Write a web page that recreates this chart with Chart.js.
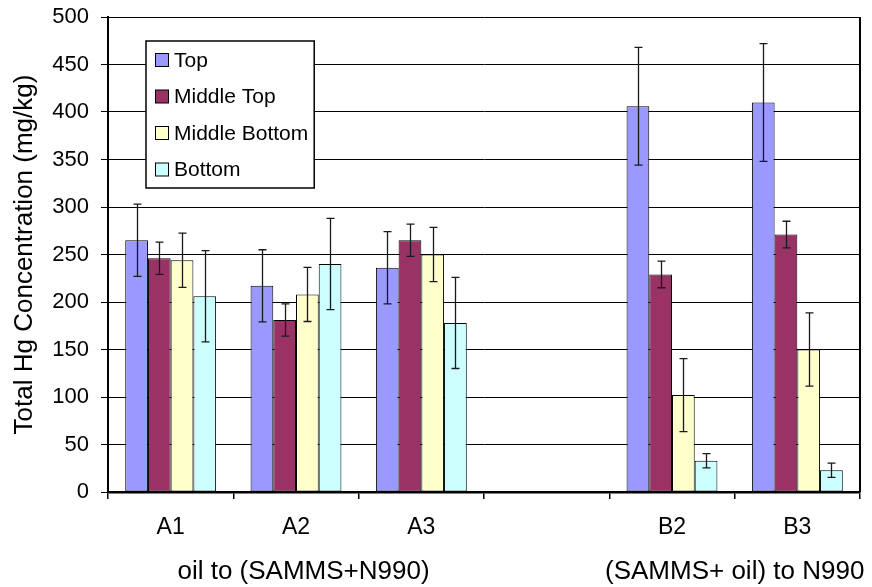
<!DOCTYPE html>
<html>
<head>
<meta charset="utf-8">
<script src="https://cdn.jsdelivr.net/npm/chart.js@4/dist/chart.umd.min.js"></script>
<style>
  html, body { margin: 0; padding: 0; background: #ffffff; }
  #wrap { width: 872px; height: 587px; }
</style>
</head>
<body>
<div id="wrap"><canvas id="chart" width="872" height="587"></canvas></div>
<script>
// Sample positions along the x axis (the fourth slot is an intentional gap)
const categories = ['A1', 'A2', 'A3', '', 'B2', 'B3'];
const seriesNames = ['Top', 'Middle Top', 'Middle Bottom', 'Bottom'];

// Mean total Hg concentration (mg/kg) per layer
const topValues          = [265, 217, 236, null, 406, 410];
const middleTopValues    = [246, 181, 265, null, 229, 271];
const middleBottomValues = [244, 208, 250, null, 102, 150];
const bottomValues       = [206, 240, 178, null, 33, 23];

// Standard deviation (± mg/kg) per layer
const topErrors          = [38, 38, 38, null, 62, 62];
const middleTopErrors    = [17, 17, 17, null, 14, 14];
const middleBottomErrors = [28.5, 28.5, 28.5, null, 38.5, 38.5];
const bottomErrors       = [48, 48, 48, null, 7.5, 7.5];

// Y axis tick values
const yTicks = [0, 50, 100, 150, 200, 250, 300, 350, 400, 450, 500];

// Experiment groupings shown below the sample labels (centre given as category index)
const groupLabels = ['oil to (SAMMS+N990)', '(SAMMS+ oil) to N990'];
const groupCenters = [1.06, 4.5];

const FONT = '"Liberation Sans", Arial, Helvetica, sans-serif';
const colors = ['#9999FF', '#993366', '#FFFFCC', '#CCFFFF'];
const valueSets = [topValues, middleTopValues, middleBottomValues, bottomValues];
const errorSets = [topErrors, middleTopErrors, middleBottomErrors, bottomErrors];

const datasets = seriesNames.map((name, i) => ({
  label: name,
  data: valueSets[i],
  errors: errorSets[i],
  backgroundColor: colors[i],
  borderColor: '#000000',
  borderWidth: 1,
  borderSkipped: false,
  categoryPercentage: 0.725,
  barPercentage: 1.0
}));

// Vertical error bars with caps, placed through the value scale
const errorBarPlugin = {
  id: 'errorBars',
  afterDatasetsDraw(chart) {
    const ctx = chart.ctx;
    const yScale = chart.scales.y;
    ctx.save();
    ctx.strokeStyle = '#1a1a1a';
    ctx.lineWidth = 1.3;
    chart.data.datasets.forEach((ds, di) => {
      const meta = chart.getDatasetMeta(di);
      meta.data.forEach((bar, idx) => {
        const v = ds.data[idx];
        const e = ds.errors[idx];
        if (v == null || e == null) return;
        const x = Math.round(bar.x) + 0.5;
        const yHi = yScale.getPixelForValue(v + e);
        const yLo = yScale.getPixelForValue(v - e);
        const cap = 4;
        ctx.beginPath();
        ctx.moveTo(x, yHi); ctx.lineTo(x, yLo);
        ctx.moveTo(x - cap, yHi); ctx.lineTo(x + cap, yHi);
        ctx.moveTo(x - cap, yLo); ctx.lineTo(x + cap, yLo);
        ctx.stroke();
      });
    });
    ctx.restore();
  }
};

// Right frame line, boxed legend and group captions
const decorPlugin = {
  id: 'decor',
  afterDraw(chart) {
    const ctx = chart.ctx;
    const area = chart.chartArea;
    const xScale = chart.scales.x;
    ctx.save();

    // right edge of the plot frame
    ctx.strokeStyle = '#000000';
    ctx.lineWidth = 2;
    ctx.beginPath();
    ctx.moveTo(area.right, area.top);
    ctx.lineTo(area.right, area.bottom);
    ctx.stroke();

    // legend box
    ctx.font = '21px ' + FONT;
    let maxW = 0;
    chart.data.datasets.forEach(ds => { maxW = Math.max(maxW, ctx.measureText(ds.label).width); });
    const bx = area.left + 38, by = area.top + 24;
    const bw = 28 + maxW + 6, rowH = 36.5, bh = rowH * chart.data.datasets.length + 1;
    ctx.fillStyle = '#ffffff';
    ctx.fillRect(bx, by, bw, bh);
    ctx.lineWidth = 1.5;
    ctx.strokeStyle = '#000000';
    ctx.strokeRect(bx, by, bw, bh);
    chart.data.datasets.forEach((ds, i) => {
      const cy = by + 19 + i * rowH;
      ctx.fillStyle = ds.backgroundColor;
      ctx.fillRect(bx + 9.5, cy - 6.5, 13, 13);
      ctx.lineWidth = 1;
      ctx.strokeRect(bx + 9.5, cy - 6.5, 13, 13);
      ctx.fillStyle = '#000000';
      ctx.textBaseline = 'middle';
      ctx.textAlign = 'left';
      ctx.fillText(ds.label, bx + 28, cy + 1);
    });

    // group captions under the category labels
    ctx.font = '26px ' + FONT;
    ctx.fillStyle = '#000000';
    ctx.textAlign = 'center';
    ctx.textBaseline = 'alphabetic';
    groupLabels.forEach((label, g) => {
      ctx.fillText(label, xScale.getPixelForValue(groupCenters[g]), 579);
    });
    ctx.restore();
  }
};

new Chart(document.getElementById('chart'), {
  type: 'bar',
  data: { labels: categories, datasets },
  options: {
    responsive: false,
    animation: false,
    devicePixelRatio: 1,
    layout: { padding: { top: 17, right: 12, left: 0, bottom: 0 } },
    plugins: {
      legend: { display: false },
      tooltip: { enabled: false }
    },
    scales: {
      x: {
        offset: true,
        grid: {
          offset: true,
          drawOnChartArea: false,
          drawTicks: true,
          tickLength: 7,
          color: '#000000',
          lineWidth: 1.5
        },
        border: { display: true, color: '#000000', width: 2.5 },
        ticks: {
          color: '#000000',
          font: { family: FONT, size: 23 },
          padding: 15,
          maxRotation: 0,
          autoSkip: false
        },
        afterFit(scale) {
          scale.height = 95;
          scale.paddingLeft = 0;
          scale.paddingRight = 0;
        }
      },
      y: {
        min: 0,
        max: 500,
        afterBuildTicks(scale) { scale.ticks = yTicks.map(v => ({ value: v })); },
        grid: {
          color: '#000000',
          lineWidth: 1,
          drawTicks: true,
          tickLength: 7
        },
        border: { display: true, color: '#000000', width: 2 },
        ticks: {
          color: '#000000',
          font: { family: FONT, size: 22 },
          padding: 12
        },
        title: {
          display: true,
          text: 'Total Hg Concentration (mg/kg)',
          color: '#000000',
          font: { family: FONT, size: 26 },
          padding: { top: 9, bottom: 0 }
        },
        afterFit(scale) {
          scale.width = 108;
          scale.paddingTop = 0;
          scale.paddingBottom = 0;
        }
      }
    }
  },
  plugins: [errorBarPlugin, decorPlugin]
});
</script>
</body>
</html>
